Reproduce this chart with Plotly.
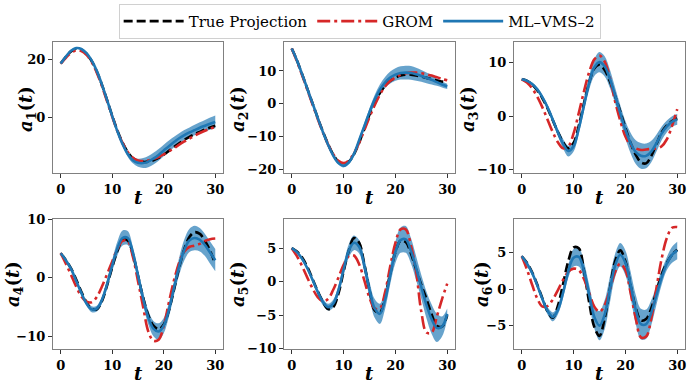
import plotly.graph_objects as go
from plotly.subplots import make_subplots

t = list(range(31))

true1 = [18.5, 20.8, 22.7, 23.6, 23.3, 21.9, 19.4, 15.8, 11.2, 6.0, 0.6, -4.4, -8.6, -11.8, -13.9, -14.9, -15.2, -15.1, -14.6, -13.8, -12.7, -11.4, -10.1, -8.8, -7.6, -6.6, -5.7, -4.9, -4.1, -3.4, -2.8]
grom1 = [18.5, 20.5, 22.2, 23.0, 22.8, 21.5, 19.0, 15.4, 10.8, 5.6, 0.3, -4.6, -8.7, -11.8, -13.8, -14.7, -14.9, -14.7, -14.2, -13.5, -12.6, -11.6, -10.5, -9.3, -8.2, -7.2, -6.2, -5.3, -4.5, -3.8, -3.2]
ml1 = [18.5, 20.9, 22.9, 23.8, 23.5, 22.1, 19.6, 16.0, 11.3, 6.0, 0.5, -4.7, -9.1, -12.5, -14.6, -15.5, -15.6, -15.1, -14.1, -12.8, -11.3, -9.8, -8.4, -7.1, -6.0, -5.1, -4.3, -3.5, -2.8, -2.1, -1.5]
hw1 = [0.3, 0.3, 0.3, 0.3, 0.3, 0.3, 0.3, 0.4, 0.4, 0.5, 0.5, 0.6, 0.7, 0.9, 1.1, 1.4, 1.7, 1.9, 2.0, 2.0, 2.0, 1.9, 1.8, 1.7, 1.7, 1.7, 1.8, 1.9, 2.0, 2.1, 2.2]

true2 = [16.8, 13.2, 9.0, 4.6, 0.2, -4.2, -8.4, -12.2, -15.4, -17.6, -18.4, -17.6, -15.3, -11.8, -7.5, -3.2, 0.5, 3.3, 5.5, 7.0, 8.0, 8.6, 8.9, 8.9, 8.6, 8.3, 7.9, 7.5, 7.1, 6.8, 6.5]
grom2 = [16.8, 12.9, 8.7, 4.3, -0.1, -4.5, -8.6, -12.3, -15.3, -17.3, -18.0, -17.2, -15.0, -11.8, -8.0, -4.0, -0.4, 2.8, 5.3, 7.0, 8.0, 8.8, 9.3, 9.5, 9.5, 9.3, 9.0, 8.6, 8.1, 7.6, 7.2]
ml2 = [16.8, 13.2, 9.0, 4.6, 0.2, -4.2, -8.5, -12.4, -15.7, -18.0, -18.8, -17.8, -15.2, -11.0, -6.8, -2.5, 1.3, 4.3, 6.5, 8.0, 8.9, 9.4, 9.5, 9.4, 9.0, 8.5, 7.9, 7.3, 6.6, 5.9, 5.3]
hw2 = [0.3, 0.3, 0.3, 0.3, 0.3, 0.3, 0.3, 0.3, 0.4, 0.4, 0.5, 0.5, 0.6, 0.8, 1.0, 1.2, 1.4, 1.6, 1.7, 1.8, 1.9, 2.0, 2.1, 2.1, 2.0, 1.8, 1.6, 1.4, 1.1, 0.9, 0.8]

true3 = [6.9, 6.6, 5.9, 4.8, 3.3, 1.4, -0.8, -3.0, -4.9, -6.0, -5.0, -1.8, 2.4, 6.3, 8.9, 9.6, 8.6, 6.5, 3.8, 0.9, -2.2, -5.0, -7.2, -8.6, -8.8, -7.4, -5.2, -3.0, -1.7, -0.9, -0.4]
grom3 = [6.9, 6.3, 5.2, 3.6, 1.6, -0.7, -3.0, -4.9, -6.0, -5.6, -3.2, 0.6, 4.6, 8.2, 10.6, 11.3, 10.2, 7.2, 2.8, -0.8, -3.8, -5.4, -6.0, -6.3, -6.2, -6.1, -6.0, -5.6, -4.3, -1.8, 1.3]
ml3 = [6.9, 6.6, 6.0, 5.0, 3.5, 1.6, -0.7, -3.1, -5.2, -6.5, -5.6, -2.3, 2.0, 6.2, 9.1, 10.1, 9.3, 7.0, 3.9, 0.6, -2.5, -5.0, -6.7, -7.4, -7.4, -6.6, -5.0, -3.2, -1.9, -1.0, -0.6]
hw3 = [0.3, 0.3, 0.3, 0.35, 0.4, 0.5, 0.6, 0.7, 0.9, 1.0, 1.0, 1.0, 1.1, 1.3, 1.6, 1.9, 1.9, 1.7, 1.5, 1.5, 1.6, 1.9, 2.2, 2.4, 2.3, 2.0, 1.6, 1.3, 1.1, 1.0, 1.0]

true4 = [4.2, 3.0, 1.6, -0.3, -2.4, -4.2, -5.3, -5.4, -4.0, -1.3, 1.8, 4.6, 6.4, 6.4, 4.0, 0.3, -3.4, -6.4, -8.2, -8.8, -8.0, -5.6, -2.0, 1.8, 4.9, 7.0, 7.8, 7.5, 6.3, 4.6, 2.4]
grom4 = [4.2, 2.4, 0.5, -1.5, -3.2, -4.1, -4.2, -3.3, -1.5, 0.6, 2.8, 4.9, 6.3, 6.3, 3.6, -0.6, -5.0, -9.2, -10.8, -10.6, -8.2, -4.2, -0.4, 2.6, 4.5, 5.3, 5.5, 5.8, 6.3, 6.6, 6.7]
ml4 = [4.2, 3.0, 1.5, -0.5, -2.6, -4.4, -5.4, -5.3, -3.8, -1.1, 2.1, 5.0, 6.8, 6.8, 4.3, 0.4, -3.6, -6.8, -8.7, -9.2, -8.2, -5.5, -1.7, 2.0, 4.8, 6.4, 6.8, 6.5, 5.6, 4.3, 3.0]
hw4 = [0.2, 0.2, 0.3, 0.3, 0.3, 0.4, 0.5, 0.5, 0.6, 0.8, 1.0, 1.2, 1.3, 1.2, 1.0, 1.0, 1.1, 1.2, 1.3, 1.4, 1.3, 1.2, 1.2, 1.5, 1.8, 2.0, 2.1, 2.0, 1.9, 1.9, 1.9]

true5 = [5.0, 4.5, 3.6, 2.2, 0.4, -1.4, -3.0, -4.1, -3.8, -1.8, 1.5, 4.6, 6.5, 5.8, 2.6, -1.3, -4.3, -4.6, -2.3, 1.2, 4.4, 6.1, 5.9, 4.2, 1.8, -0.5, -2.6, -4.9, -6.6, -6.7, -5.0]
grom5 = [5.0, 3.8, 2.3, 0.6, -1.0, -2.3, -2.9, -2.6, -1.2, 0.6, 2.5, 3.8, 3.9, 2.6, 0.2, -2.4, -4.0, -4.0, -1.6, 2.3, 5.8, 7.8, 7.8, 5.4, 1.5, -4.5, -7.6, -7.6, -5.2, -2.6, -0.3]
ml5 = [5.0, 4.4, 3.4, 2.0, 0.3, -1.5, -3.0, -3.8, -3.3, -1.3, 1.8, 4.6, 5.8, 5.2, 2.4, -1.2, -4.0, -4.8, -2.7, 1.0, 4.4, 6.2, 6.3, 4.6, 2.0, -0.8, -3.5, -5.6, -6.9, -6.7, -4.8]
hw5 = [0.2, 0.2, 0.3, 0.3, 0.3, 0.4, 0.5, 0.5, 0.6, 0.7, 0.8, 1.0, 1.1, 1.0, 1.0, 1.2, 1.4, 1.5, 1.4, 1.4, 1.6, 1.9, 2.0, 1.9, 1.8, 1.8, 2.0, 2.2, 2.1, 1.5, 0.8]

true6 = [4.5, 3.6, 2.3, 0.6, -1.3, -3.1, -3.9, -2.2, 0.8, 3.9, 5.7, 5.6, 2.5, -1.8, -5.2, -6.4, -4.0, 0.0, 3.8, 5.3, 3.8, 0.5, -2.6, -4.3, -4.1, -2.6, -0.3, 2.0, 3.6, 4.7, 5.4]
grom6 = [4.5, 2.7, 0.6, -1.3, -2.4, -2.3, -1.4, -0.1, 1.3, 2.4, 2.8, 2.6, 1.4, -0.5, -2.4, -3.1, -2.2, -0.1, 2.3, 3.5, 2.6, -0.5, -4.0, -6.6, -6.5, -4.0, 0.2, 4.2, 7.0, 8.4, 8.5]
ml6 = [4.5, 3.5, 2.2, 0.5, -1.4, -3.0, -3.8, -2.8, -0.4, 2.5, 4.3, 4.4, 2.5, -0.7, -3.8, -5.0, -3.5, -0.1, 3.2, 4.7, 3.6, 0.6, -2.8, -4.8, -4.8, -3.2, -0.8, 1.6, 3.5, 4.7, 5.3]
hw6 = [0.2, 0.2, 0.3, 0.3, 0.4, 0.5, 0.6, 0.6, 0.7, 0.9, 1.2, 1.3, 1.2, 1.3, 1.6, 2.0, 2.0, 1.8, 1.6, 1.6, 1.7, 1.8, 2.0, 2.1, 2.0, 1.7, 1.3, 1.0, 0.9, 1.1, 1.2]

panels = [
    (true1, grom1, ml1, hw1, "1", [-19.0, 25.9], 20),
    (true2, grom2, ml2, hw2, "2", [-21.0, 18.8], 10),
    (true3, grom3, ml3, hw3, "3", [-10.6, 13.85], 10),
    (true4, grom4, ml4, hw4, "4", [-12.2, 10.05], 10),
    (true5, grom5, ml5, hw5, "5", [-10.05, 9.35], 5),
    (true6, grom6, ml6, hw6, "6", [-8.2, 9.6], 5),
]

W, H = 689, 386
xdoms = [(53/W, 223/W), (284/W, 455/W), (514/W, 685/W)]
ydoms = [(1 - 173/H, 1 - 42/H), (1 - 349/H, 1 - 219/H)]
ytitle_x = [27, 239, 469, 14, 239, 483]
ytitle_y = [109, 109, 109, 284, 284, 284]
xtitle_y = [197, 197, 197, 373, 373, 373]

BLUE = "#1f77b4"
BAND = "rgba(31,119,180,0.68)"
RED = "#d62728"
FONT = "DejaVu Serif"

fig = make_subplots(rows=2, cols=3)

for i, (tr, gr, ml, hw, idx, yr, dt) in enumerate(panels):
    r, c = i // 3 + 1, i % 3 + 1
    lo = [m - h for m, h in zip(ml, hw)]
    hi = [m + h for m, h in zip(ml, hw)]
    fig.add_trace(go.Scatter(x=t, y=lo, mode="lines", line=dict(width=0, shape="spline"),
                             showlegend=False, hoverinfo="skip"), row=r, col=c)
    fig.add_trace(go.Scatter(x=t, y=hi, mode="lines", line=dict(width=0, shape="spline"),
                             fill="tonexty", fillcolor=BAND, showlegend=False,
                             hoverinfo="skip"), row=r, col=c)
    fig.add_trace(go.Scatter(x=t, y=tr, mode="lines", name="True Projection",
                             line=dict(color="black", width=2.6, dash="9px,4px", shape="spline"),
                             showlegend=(i == 0), legendgroup="tp"), row=r, col=c)
    fig.add_trace(go.Scatter(x=t, y=gr, mode="lines", name="GROM",
                             line=dict(color=RED, width=2.6, dash="13px,4px,3px,4px", shape="spline"),
                             showlegend=(i == 0), legendgroup="gr"), row=r, col=c)
    fig.add_trace(go.Scatter(x=t, y=ml, mode="lines", name="ML\u2013VMS\u20132",
                             line=dict(color=BLUE, width=2.6, shape="spline"),
                             showlegend=(i == 0), legendgroup="ml"), row=r, col=c)
    fig.update_xaxes(range=[-1.5, 31.5], dtick=10, tick0=0, domain=xdoms[c - 1], row=r, col=c)
    fig.update_yaxes(range=yr, dtick=dt, tick0=0, domain=ydoms[r - 1], row=r, col=c)
    fig.add_annotation(text="<b><i>a</i><sub>%s</sub>(<i>t</i>)</b>" % idx,
                       x=ytitle_x[i] / W, y=1 - ytitle_y[i] / H, xref="paper", yref="paper",
                       textangle=-90, showarrow=False, xanchor="center", yanchor="middle",
                       font=dict(family=FONT, size=18, color="black"))
    xd = xdoms[c - 1]
    fig.add_annotation(text="<b><i>t</i></b>",
                       x=(xd[0] + xd[1]) / 2, y=1 - xtitle_y[i] / H, xref="paper", yref="paper",
                       showarrow=False, xanchor="center", yanchor="middle",
                       font=dict(family=FONT, size=18, color="black"))

axstyle = dict(showline=True, mirror=True, linecolor="#808080", linewidth=1.2,
               ticks="outside", ticklen=4, tickwidth=1, tickcolor="#333333",
               showgrid=False, zeroline=False, automargin=False,
               tickfont=dict(family=FONT, size=13, color="black", weight="bold"))
fig.update_xaxes(**axstyle)
fig.update_yaxes(**axstyle)

fig.update_layout(
    width=W, height=H,
    margin=dict(l=0, r=0, t=0, b=0, autoexpand=False),
    paper_bgcolor="white", plot_bgcolor="white",
    hovermode=False,
    legend=dict(orientation="h", x=0.522, xanchor="center", y=0.99, yanchor="top",
                bordercolor="#d0d0d0", borderwidth=1, bgcolor="white",
                font=dict(family=FONT, size=15, color="black"),
                itemwidth=60, tracegroupgap=0),
)

fig.write_html("out.html", config={"displayModeBar": False},
               post_script="document.body.style.margin='0';document.body.style.padding='0';")
